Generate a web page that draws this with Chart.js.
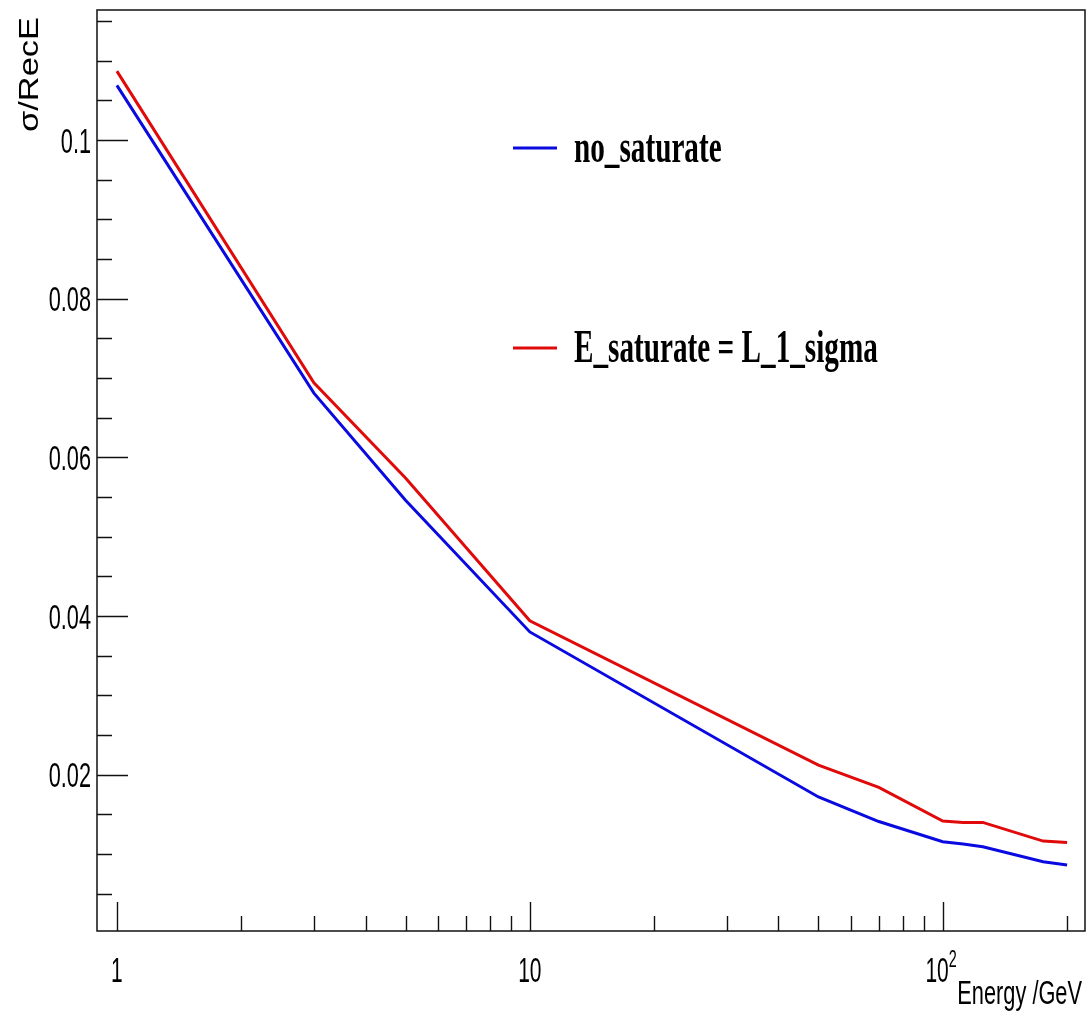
<!DOCTYPE html>
<html>
<head>
<meta charset="utf-8">
<script src="https://cdn.jsdelivr.net/npm/chart.js@4.4.1/dist/chart.umd.min.js"></script>
<style>
  html, body { margin: 0; padding: 0; background: #fff; }
  #wrap { width: 1092px; height: 1015px; position: relative; }
</style>
</head>
<body>
<div id="wrap"><canvas id="resolutionChart"></canvas></div>
<script>
// Beam energies (GeV) and energy resolution sigma/RecE
const energies = [1, 3, 5, 10, 50, 70, 100, 112, 125, 175, 200];
const noSaturate = [0.1069, 0.0681, 0.0546, 0.0380, 0.0172, 0.0141, 0.01155, 0.01126, 0.01092, 0.00903, 0.00861];
const lSigmaSaturate = [0.1087, 0.0694, 0.0574, 0.0394, 0.0212, 0.0184, 0.01416, 0.01399, 0.01399, 0.01163, 0.01147];

const seriesLabels = ["no_saturate", "E_saturate = L_1_sigma"];
const seriesColors = ["#0a0ae0", "#e00a0a"];

// axis ticks
const xTickValues = [1, 10, 100];
const xTickLabels = ["1", "10", "10"];
const xTickExponents = ["", "", "2"];
const xMinorTicks = [2, 3, 4, 5, 6, 7, 8, 9, 20, 30, 40, 50, 60, 70, 80, 90, 200];
const yTickValues = [0.02, 0.04, 0.06, 0.08, 0.1];
const yTickLabels = ["0.02", "0.04", "0.06", "0.08", "0.1"];
const yMinorTicks = [0.005, 0.01, 0.015, 0.025, 0.03, 0.035, 0.045, 0.05, 0.055,
  0.065, 0.07, 0.075, 0.085, 0.09, 0.095, 0.105, 0.11, 0.115];

const xTitle = "Energy /GeV";
const yTitle = "\u03C3/RecE";

const SANS = '"Liberation Sans", Arial, Helvetica, sans-serif';
const SERIF = '"Liberation Serif", "Times New Roman", serif';

// the ROOT canvas text is stretched vertically, so text is drawn scaled
function stretchedText(ctx, text, x, y, font, sx, align, rot) {
  ctx.save();
  ctx.translate(x, y);
  if (rot) ctx.rotate(rot);
  ctx.scale(sx, 1);
  ctx.font = font;
  ctx.fillStyle = "#000";
  ctx.textAlign = align;
  ctx.textBaseline = "alphabetic";
  ctx.fillText(text, 0, 0);
  ctx.restore();
}

// ROOT-like frame, inward tick marks and axis labels
const rootFrame = {
  id: "rootFrame",
  afterDatasetsDraw(chart) {
    const { ctx, chartArea: a, scales: { x, y } } = chart;
    ctx.save();
    ctx.strokeStyle = "#111";
    ctx.lineWidth = 1.4;
    ctx.beginPath();
    xTickValues.forEach((v) => {
      const px = Math.round(x.getPixelForValue(v)) + 0.5;
      ctx.moveTo(px, a.bottom); ctx.lineTo(px, a.bottom - 29);
    });
    xMinorTicks.forEach((v) => {
      const px = Math.round(x.getPixelForValue(v)) + 0.5;
      ctx.moveTo(px, a.bottom); ctx.lineTo(px, a.bottom - 15);
    });
    yTickValues.forEach((v) => {
      const py = Math.round(y.getPixelForValue(v)) + 0.5;
      ctx.moveTo(a.left, py); ctx.lineTo(a.left + 31, py);
    });
    yMinorTicks.forEach((v) => {
      const py = Math.round(y.getPixelForValue(v)) + 0.5;
      ctx.moveTo(a.left, py); ctx.lineTo(a.left + 15, py);
    });
    ctx.stroke();
    ctx.lineWidth = 1.5;
    ctx.strokeRect(a.left, a.top, a.right - a.left, a.bottom - a.top);
    ctx.restore();

    // y tick labels
    yTickValues.forEach((v, i) => {
      const py = y.getPixelForValue(v);
      stretchedText(ctx, yTickLabels[i], a.left - 6, py + 12.5, "35px " + SANS, 0.62, "right");
    });
    // x tick labels (with ROOT-style exponent)
    xTickValues.forEach((v, i) => {
      const px = x.getPixelForValue(v);
      const base = xTickLabels[i];
      const exp = xTickExponents[i];
      if (!exp) {
        stretchedText(ctx, base, px, a.bottom + 51, "35px " + SANS, 0.6, "center");
      } else {
        stretchedText(ctx, base, px + 6, a.bottom + 51, "35px " + SANS, 0.6, "right");
        stretchedText(ctx, exp, px + 6, a.bottom + 36, "24px " + SANS, 0.6, "left");
      }
    });
    // axis titles
    stretchedText(ctx, xTitle, a.right - 3, a.bottom + 73, "33.5px " + SANS, 0.65, "right");
    stretchedText(ctx, yTitle, 38, a.top + 7, "28px " + SANS, 1.23, "right", -Math.PI / 2);
  },
};

// legend drawn the way ROOT's TLegend looks here (no box, condensed Times bold)
const rootLegend = {
  id: "rootLegend",
  afterDraw(chart) {
    const { ctx } = chart;
    const rows = [148, 348];
    ctx.save();
    chart.data.datasets.forEach((ds, i) => {
      const yy = rows[i];
      ctx.strokeStyle = ds.borderColor;
      ctx.lineWidth = 3;
      ctx.beginPath();
      ctx.moveTo(513, yy); ctx.lineTo(557, yy);
      ctx.stroke();
      stretchedText(ctx, ds.label, 574, yy + 14, "bold 46px " + SERIF, 0.635, "left");
    });
    ctx.restore();
  },
};

const ctx = document.getElementById("resolutionChart").getContext("2d");
new Chart(ctx, {
  type: "line",
  data: {
    datasets: [
      {
        label: seriesLabels[0],
        data: energies.map((e, i) => ({ x: e, y: noSaturate[i] })),
        borderColor: seriesColors[0],
        borderWidth: 3,
        pointRadius: 0,
        tension: 0,
        fill: false,
      },
      {
        label: seriesLabels[1],
        data: energies.map((e, i) => ({ x: e, y: lSigmaSaturate[i] })),
        borderColor: seriesColors[1],
        borderWidth: 3,
        pointRadius: 0,
        tension: 0,
        fill: false,
      },
    ],
  },
  options: {
    responsive: true,
    maintainAspectRatio: false,
    animation: false,
    layout: { padding: { top: 10, right: 7, left: 0, bottom: 0 } },
    plugins: {
      legend: { display: false },
      tooltip: { enabled: false },
    },
    scales: {
      x: {
        type: "logarithmic",
        min: 0.895,
        max: 221,
        grid: { display: false, drawTicks: false },
        border: { display: false },
        afterBuildTicks: (scale) => {
          scale.ticks = xTickValues.map((v) => ({ value: v }));
        },
        afterFit: (scale) => {
          scale.height = 84;
          scale.paddingLeft = 0;
          scale.paddingRight = 0;
        },
        ticks: { display: false },
      },
      y: {
        type: "linear",
        min: 0.0003,
        max: 0.1164,
        grid: { display: false, drawTicks: false },
        border: { display: false },
        afterBuildTicks: (scale) => {
          scale.ticks = yTickValues.map((v) => ({ value: v }));
        },
        afterFit: (scale) => {
          scale.width = 97;
          scale.paddingTop = 0;
          scale.paddingBottom = 0;
        },
        ticks: { display: false },
      },
    },
  },
  plugins: [rootFrame, rootLegend],
});
</script>
</body>
</html>
